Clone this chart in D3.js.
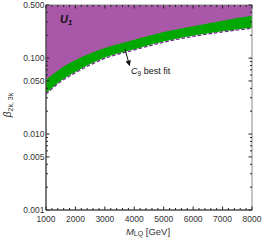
<!DOCTYPE html>
<html>
<head>
<meta charset="utf-8">
<script src="https://cdn.jsdelivr.net/npm/d3@7"></script>
<style>
  body { margin: 0; background: #fff; }
  text { font-family: "Liberation Sans", Arial, sans-serif; }
</style>
</head>
<body>
<svg width="263" height="240"></svg>
<script>
// Values.
let masses = [1000, 1500, 2000, 3000, 4000, 5000, 6000, 7000, 8000];
let bestFit = [0.0335, 0.049, 0.0642, 0.099, 0.128, 0.162, 0.193, 0.221, 0.247];
let greenTop = [0.0515, 0.073, 0.0944, 0.136, 0.175, 0.221, 0.263, 0.311, 0.360];
let xTicks = [1000, 2000, 3000, 4000, 5000, 6000, 7000, 8000];
let yTicks = [0.001, 0.005, 0.010, 0.050, 0.100, 0.500];
let yTickLabels = ["0.001", "0.005", "0.010", "0.050", "0.100", "0.500"];

let svg = d3.select("svg");
let plotLeft = 46, plotRight = 252, plotTop = 5, plotBottom = 210;

let x = d3.scaleLinear().domain([1000, 8000]).range([plotLeft, plotRight]);
let y = d3.scaleLog().domain([0.001, 0.5]).range([plotBottom, plotTop]);

let pts = masses.map(function (m, i) { return { m: m, lo: bestFit[i], hi: greenTop[i] }; });

// Purple region above the best-fit line.
let purple = d3.area().curve(d3.curveMonotoneX)
    .x(function (d) { return x(d.m); })
    .y0(function (d) { return y(d.lo); })
    .y1(function () { return y(0.5); });
svg.append("path").datum(pts).attr("d", purple).attr("fill", "#a957a9");

// Green band.
let green = d3.area().curve(d3.curveMonotoneX)
    .x(function (d) { return x(d.m); })
    .y0(function (d) { return y(d.lo); })
    .y1(function (d) { return y(d.hi); });
svg.append("path").datum(pts).attr("d", green).attr("fill", "#00a800");

// Dashed best-fit line.
let line = d3.line().curve(d3.curveMonotoneX)
    .x(function (d) { return x(d.m); })
    .y(function (d) { return y(d.lo); });
svg.append("path").datum(pts).attr("d", line)
    .attr("fill", "none").attr("stroke", "#fff").attr("stroke-width", 1.2);
svg.append("path").datum(pts).attr("d", line)
    .attr("fill", "none").attr("stroke", "#6b2585")
    .attr("stroke-width", 1.2).attr("stroke-dasharray", "3.5,2");

// Frame.
svg.append("rect").attr("x", plotLeft).attr("y", plotTop)
    .attr("width", plotRight - plotLeft).attr("height", plotBottom - plotTop)
    .attr("fill", "none").attr("stroke", "#888").attr("stroke-width", 1);

// Ticks (inward, on all four sides).
let minorX = d3.range(1000, 8001, 200);
minorX.forEach(function (v) {
    let major = v % 1000 === 0;
    let len = major ? 3.5 : 2;
    svg.append("line").attr("x1", x(v)).attr("x2", x(v))
        .attr("y1", plotBottom).attr("y2", plotBottom - len).attr("stroke", "#222");
    svg.append("line").attr("x1", x(v)).attr("x2", x(v))
        .attr("y1", plotTop).attr("y2", plotTop + len).attr("stroke", "#222");
});
let minorY = [];
[0.001, 0.01, 0.1].forEach(function (d) {
    for (let k = 1; k <= 9; k++) {
        let v = d * k;
        if (v <= 0.5 + 1e-9) minorY.push(v);
    }
});
minorY.forEach(function (v) {
    let major = yTicks.some(function (t) { return Math.abs(t - v) < 1e-9; });
    let len = major ? 3.5 : 2;
    svg.append("line").attr("x1", plotLeft).attr("x2", plotLeft + len)
        .attr("y1", y(v)).attr("y2", y(v)).attr("stroke", "#222");
    svg.append("line").attr("x1", plotRight).attr("x2", plotRight - len)
        .attr("y1", y(v)).attr("y2", y(v)).attr("stroke", "#222");
});
// Darker left and bottom axes.
svg.append("line").attr("x1", plotLeft).attr("x2", plotLeft).attr("y1", plotTop).attr("y2", plotBottom)
    .attr("stroke", "#333");
svg.append("line").attr("x1", plotLeft).attr("x2", plotRight).attr("y1", plotBottom).attr("y2", plotBottom)
    .attr("stroke", "#333");

// Tick labels.
xTicks.forEach(function (v) {
    svg.append("text").attr("x", x(v)).attr("y", plotBottom + 12)
        .attr("text-anchor", "middle").attr("font-size", 8.5).attr("fill", "#333")
        .text(v);
});
yTicks.forEach(function (v, i) {
    svg.append("text").attr("x", plotLeft - 1.5).attr("y", y(v) + 3)
        .attr("text-anchor", "end").attr("font-size", 8.5).attr("fill", "#333")
        .text(yTickLabels[i]);
});

// Axis labels.
let xl = svg.append("text").attr("x", 148).attr("y", 234.5)
    .attr("text-anchor", "middle").attr("font-size", 9.5).attr("fill", "#333");
xl.append("tspan").attr("font-style", "italic").text("M");
xl.append("tspan").attr("font-size", 7).attr("dy", 1.5).text("LQ");
xl.append("tspan").attr("dy", -1.5).text(" [GeV]");

let yl = svg.append("text").attr("transform", "translate(11,105) rotate(-90)")
    .attr("text-anchor", "middle").attr("font-size", 10).attr("fill", "#333");
yl.append("tspan").attr("font-style", "italic").text("β");
yl.append("tspan").attr("font-size", 7).attr("dy", 2).text("2k, 3k");

// Region label.
let u = svg.append("text").attr("x", 60).attr("y", 23)
    .attr("font-size", 11).attr("font-weight", "bold").attr("font-style", "italic").attr("fill", "#111");
u.append("tspan").text("U");
u.append("tspan").attr("font-size", 7.5).attr("dy", 2).text("1");

// Best-fit annotation.
svg.append("defs").append("marker").attr("id", "ah")
    .attr("viewBox", "0 0 10 10").attr("refX", 9).attr("refY", 5)
    .attr("markerWidth", 5.5).attr("markerHeight", 5.5).attr("orient", "auto")
    .append("path").attr("d", "M0,0 L10,5 L0,10 Z").attr("fill", "#111");
svg.append("line").attr("x1", 125).attr("y1", 49).attr("x2", 129.5).attr("y2", 65.5)
    .attr("stroke", "#111").attr("stroke-width", 1).attr("marker-end", "url(#ah)");
let c = svg.append("text").attr("x", 131).attr("y", 74)
    .attr("font-size", 9).attr("fill", "#111");
c.append("tspan").attr("font-style", "italic").text("C");
c.append("tspan").attr("font-size", 6.5).attr("dy", 2).text("9");
c.append("tspan").attr("dy", -2).text(" best fit");
</script>
</body>
</html>
